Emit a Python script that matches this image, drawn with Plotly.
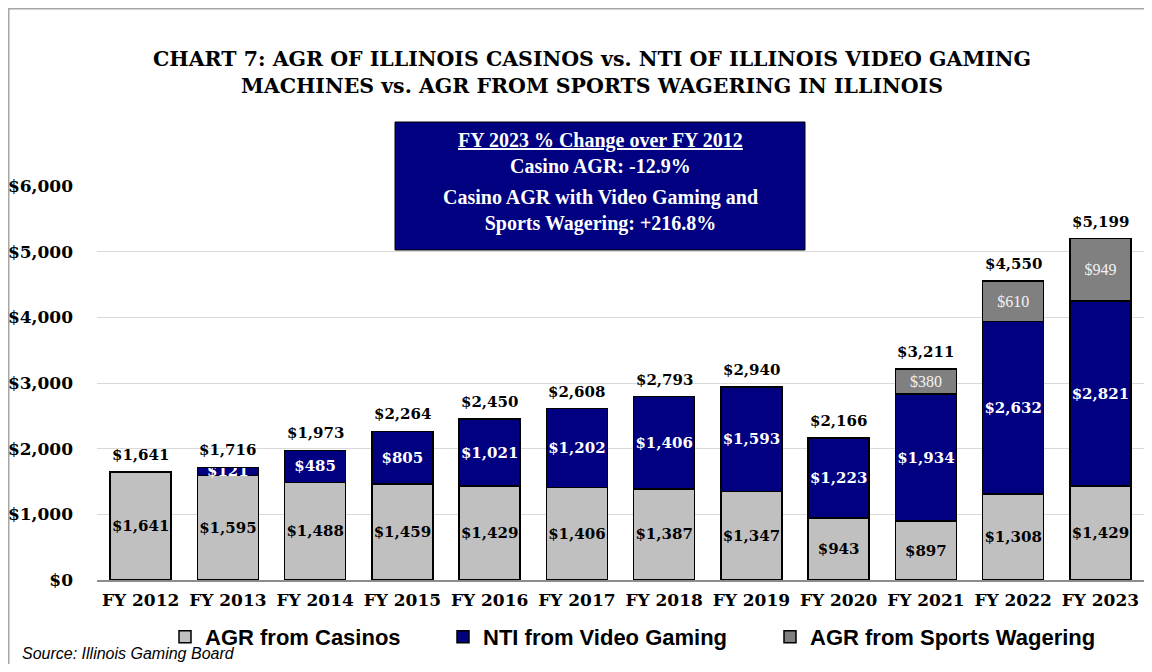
import plotly.graph_objects as go

years = ["FY 2012", "FY 2013", "FY 2014", "FY 2015", "FY 2016", "FY 2017",
         "FY 2018", "FY 2019", "FY 2020", "FY 2021", "FY 2022", "FY 2023"]
casino_agr = [1641, 1595, 1488, 1459, 1429, 1406, 1387, 1347, 943, 897, 1308, 1429]
video_nti = [0, 121, 485, 805, 1021, 1202, 1406, 1593, 1223, 1934, 2632, 2821]
sports_agr = [0, 0, 0, 0, 0, 0, 0, 0, 0, 380, 610, 949]
totals = [1641, 1716, 1973, 2264, 2450, 2608, 2793, 2940, 2166, 3211, 4550, 5199]
y_ticks = [0, 1000, 2000, 3000, 4000, 5000, 6000]

def fmt(v):
    return "" if v == 0 else "${:,}".format(v)

SERIF = "DejaVu Serif"
W, H = 1136, 656
L, R, T, B = 89, 0, 178, 84
PW, PH = W - L - R, H - T - B

def px(xf):  # figure px -> paper x
    return (xf - L) / PW

def py(yf):  # figure px (from top) -> paper y
    return (H - B - yf) / PH

fig = go.Figure()
common = dict(marker_line_color="black", marker_line_width=1.5, textposition="inside",
              insidetextanchor="middle", textangle=0, constraintext="none", cliponaxis=False)
fig.add_trace(go.Bar(x=years, y=casino_agr, name="AGR from Casinos", marker_color="#C0C0C0",
                     text=[fmt(v) for v in casino_agr], legend="legend",
                     textfont=dict(family=SERIF, size=15, color="black", weight="bold"), **common))
fig.add_trace(go.Bar(x=years, y=video_nti, name="NTI from Video Gaming", marker_color="#000080",
                     text=[fmt(v) for v in video_nti], legend="legend2",
                     textfont=dict(family=SERIF, size=15, color="white", weight="bold"), **common))
fig.add_trace(go.Bar(x=years, y=sports_agr, name="AGR from Sports Wagering", marker_color="#808080",
                     text=[fmt(v) for v in sports_agr], legend="legend3",
                     textfont=dict(family="Liberation Serif", size=16, color="#f2f2f2"), **common))

for yr, tot in zip(years, totals):
    fig.add_annotation(x=yr, y=tot, text=fmt(tot), showarrow=False, yanchor="bottom", yshift=6,
                       font=dict(family=SERIF, size=15, color="black", weight="bold"))

legfont = dict(family="Liberation Sans", size=22, color="black", weight="bold")
legcommon = dict(orientation="h", yanchor="middle", y=py(629), xanchor="left",
                 font=legfont, itemwidth=30, bgcolor="rgba(0,0,0,0)")

fig.update_layout(
    width=W, height=H, barmode="stack", bargap=0.3,
    paper_bgcolor="white", plot_bgcolor="white",
    margin=dict(l=L, r=R, t=T, b=B),
    showlegend=True,
    legend=dict(x=px(157), **legcommon),
    legend2=dict(x=px(435), **legcommon),
    legend3=dict(x=px(762), **legcommon),
    xaxis=dict(showline=True, linecolor="#8c8c8c", linewidth=1.5, ticks="", automargin=False,
               ticklabelstandoff=4,
               tickfont=dict(family=SERIF, size=17, color="black", weight="bold")),
    yaxis=dict(range=[0, 6000], tickvals=y_ticks, automargin=False,
               ticktext=["${:,}".format(v) for v in y_ticks],
               showgrid=True, gridcolor="#d9d9d9", gridwidth=1, zeroline=False,
               ticklabelstandoff=23,
               tickfont=dict(family=SERIF, size=17, color="black", weight="bold")),
    font=dict(family=SERIF),
)

# outer frame
fig.add_shape(type="rect", xref="paper", yref="paper",
              x0=px(0), x1=px(W + 20), y0=py(H + 20), y1=py(0),
              line=dict(color="#a6a6a6", width=3), layer="below")

# title
fig.add_annotation(text="CHART 7: AGR OF ILLINOIS CASINOS vs. NTI OF ILLINOIS VIDEO GAMING<br>"
                        "MACHINES vs. AGR FROM SPORTS WAGERING IN ILLINOIS",
                   xref="paper", yref="paper", x=px(584), y=py(64.5),
                   xanchor="center", yanchor="middle", showarrow=False,
                   font=dict(family=SERIF, size=20.5, color="black", weight="bold"))

# info box
fig.add_shape(type="rect", xref="paper", yref="paper",
              x0=px(387), x1=px(797), y0=py(242), y1=py(114),
              fillcolor="#000080", line=dict(color="black", width=1), layer="above")
fig.add_annotation(text="<u>FY 2023 % Change over FY 2012</u><br>Casino AGR: -12.9%",
                   xref="paper", yref="paper", x=px(592), y=py(145.5),
                   xanchor="center", yanchor="middle", showarrow=False,
                   font=dict(family="Liberation Serif", size=20, color="white", weight="bold"))
fig.add_annotation(text="Casino AGR with Video Gaming and<br>Sports Wagering: +216.8%",
                   xref="paper", yref="paper", x=px(592), y=py(202.5),
                   xanchor="center", yanchor="middle", showarrow=False,
                   font=dict(family="Liberation Serif", size=20, color="white", weight="bold"))

# source
fig.add_annotation(text="<i>Source: Illinois Gaming Board</i>", xref="paper", yref="paper",
                   x=px(12), y=py(645), xanchor="left", yanchor="middle", showarrow=False,
                   font=dict(family="Liberation Sans", size=16, color="black"))

fig.write_html("out.html")
